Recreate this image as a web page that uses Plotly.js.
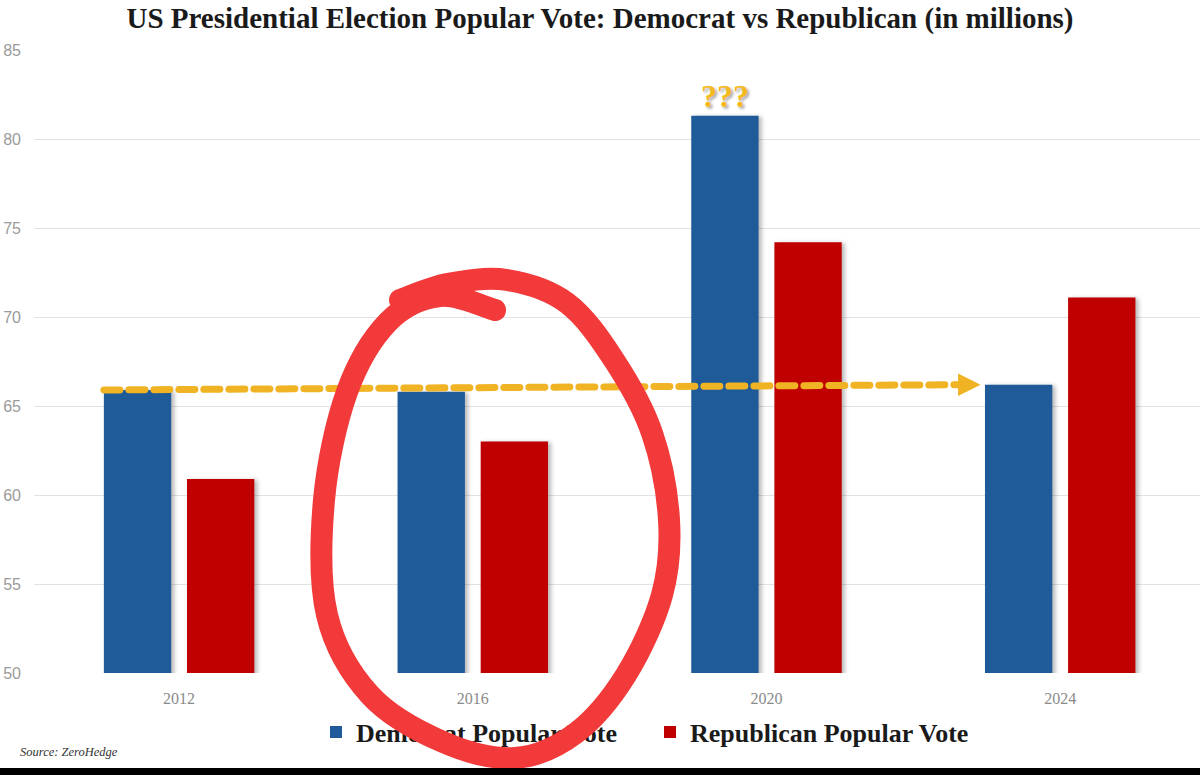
<!DOCTYPE html>
<html>
<head>
<meta charset="utf-8">
<script src="https://cdn.plot.ly/plotly-3.0.1.min.js"></script>
<style>
  html, body { margin: 0; padding: 0; background: #ffffff; }
  #chart { width: 1200px; height: 775px; }
</style>
</head>
<body>
<div id="chart"></div>
<script>
// ---- data ----
const categories = ['2012', '2016', '2020', '2024'];
const demVotes = [65.9, 65.8, 81.3, 66.2];
const repVotes = [60.9, 63.0, 74.2, 71.1];
const seriesNames = ['Democrat Popular Vote', 'Republican Popular Vote'];
const yTicks = [50, 55, 60, 65, 70, 75, 80, 85];

// ---- layout constants ----
const W = 1200, H = 775;
const M = { l: 34, r: 0, t: 50, b: 102 };
const PW = W - M.l - M.r, PH = H - M.t - M.b;
const plotBottom = H - M.b;
const BARGAP = 0.434, BARGROUPGAP = 0.19;
const X_RANGE = [-0.494, 3.476];
const px = v => (v - M.l) / PW;          // pixel x -> paper x
const py = v => (plotBottom - v) / PH;   // pixel y -> paper y

const BLUE = '#1f5a99', RED = '#c00000', GOLD = '#f0b323';

const traces = [
  { type: 'bar', name: seriesNames[0], x: categories, y: demVotes,
    marker: { color: BLUE }, hoverinfo: 'skip' },
  { type: 'bar', name: seriesNames[1], x: categories, y: repVotes,
    marker: { color: RED }, hoverinfo: 'skip' }
];

// position of democrat bar (left bar of each group) in category units
const slotUnits = (1 - BARGAP) / 2;
const barUnits = slotUnits * (1 - BARGROUPGAP);
const demCenter = i => i - slotUnits / 2;
const demLeft = i => demCenter(i) - barUnits / 2;

// hand-drawn red loop around 2016 (pixel coords of stroke centre)
const loopPx = [
  [495, 310], [440, 296], [388, 322], [347, 392], [324, 500], [327, 615],
  [370, 695], [443, 742], [515, 758], [576, 733], [626, 675], [662, 595],
  [669, 520], [652, 433], [614, 360], [567, 303], [507, 280], [447, 284], [400, 300]
];
function smoothPath(pts) {
  const p = pts.map(([x, y]) => [px(x), py(y)]);
  let d = 'M' + p[0][0].toFixed(4) + ',' + p[0][1].toFixed(4);
  for (let i = 0; i < p.length - 1; i++) {
    const p0 = p[i - 1] || p[i], p1 = p[i], p2 = p[i + 1], p3 = p[i + 2] || p2;
    const c1 = [p1[0] + (p2[0] - p0[0]) / 6, p1[1] + (p2[1] - p0[1]) / 6];
    const c2 = [p2[0] - (p3[0] - p1[0]) / 6, p2[1] - (p3[1] - p1[1]) / 6];
    d += ' C' + c1.map(v => v.toFixed(4)).join(',') + ' ' +
         c2.map(v => v.toFixed(4)).join(',') + ' ' + p2.map(v => v.toFixed(4)).join(',');
  }
  return d;
}

const layout = {
  width: W, height: H,
  margin: M,
  paper_bgcolor: '#ffffff',
  plot_bgcolor: '#ffffff',
  barmode: 'group',
  bargap: BARGAP,
  bargroupgap: BARGROUPGAP,
  title: {
    text: 'US Presidential Election Popular Vote: Democrat vs Republican (in millions)',
    x: 0.5, xref: 'container', xanchor: 'center',
    y: 1 - 18 / H, yref: 'container', yanchor: 'middle',
    font: { family: 'Liberation Serif, serif', size: 29, color: '#1a1a1a', weight: 'bold' }
  },
  xaxis: {
    type: 'category',
    range: X_RANGE,
    showgrid: false, zeroline: false, showline: false, ticks: '',
    ticklabelstandoff: 14,
    tickfont: { family: 'Liberation Serif, serif', size: 16, color: '#8a8a8a' }
  },
  yaxis: {
    range: [50, 85],
    tickvals: yTicks,
    ticktext: yTicks.map(String),
    showgrid: true, gridcolor: '#e2e2e2', gridwidth: 1,
    zeroline: false, showline: false, ticks: '',
    ticklabelstandoff: 12,
    tickfont: { family: 'Liberation Sans, sans-serif', size: 16, color: '#9a9a9a' }
  },
  showlegend: true,
  legend: {
    orientation: 'h',
    x: px(316), xanchor: 'left',
    y: py(732), yanchor: 'middle',
    entrywidth: 289, entrywidthmode: 'pixels',
    font: { family: 'Liberation Serif, serif', size: 26, color: '#1a1a1a', weight: 'bold' },
    bgcolor: 'rgba(0,0,0,0)'
  },
  shapes: [
    // dashed trend arrow from 2012 democrat level to 2024 democrat level
    { type: 'line', xref: 'x', yref: 'y', layer: 'above',
      x0: demLeft(0), y0: demVotes[0], x1: demLeft(3) - 0.06, y1: demVotes[3],
      line: { color: GOLD, width: 7, dash: '16px,9px' } },
    // red loop
    { type: 'path', xref: 'paper', yref: 'paper', layer: 'above',
      path: smoothPath(loopPx),
      line: { color: '#f23a3a', width: 22 } },
    // black strip at the bottom
    { type: 'rect', xref: 'paper', yref: 'paper', layer: 'above',
      x0: px(0), x1: px(W), y0: py(H + 2), y1: py(768),
      fillcolor: '#000000', line: { width: 0 } }
  ],
  annotations: [
    { x: demCenter(2), y: demVotes[2], xref: 'x', yref: 'y',
      text: '???', showarrow: false, yanchor: 'bottom', yshift: 0,
      font: { family: 'Liberation Serif, serif', size: 32, color: '#f5b81f', weight: 'bold',
              shadow: '2px 2px 3px rgba(0,0,0,0.35)' } },
    { x: demLeft(3) - 0.015, y: demVotes[3], xref: 'x', yref: 'y',
      ax: -14, ay: 0, axref: 'pixel', ayref: 'pixel',
      showarrow: true, arrowhead: 2, arrowsize: 0.9, arrowwidth: 5, arrowcolor: GOLD,
      text: '' },
    { x: px(18), y: py(752), xref: 'paper', yref: 'paper',
      xanchor: 'left', yanchor: 'middle', showarrow: false,
      text: '<i>Source: ZeroHedge</i>',
      font: { family: 'Liberation Serif, serif', size: 12.5, color: '#333333' } }
  ]
};

const gd = document.getElementById('chart');
Plotly.newPlot(gd, traces, layout, { staticPlot: true, displayModeBar: false }).then(() => {
  // soft shadow on the bars, as in the reference
  gd.querySelectorAll('.barlayer .point path').forEach(p => {
    p.style.filter = 'drop-shadow(3px 1px 2px rgba(0,0,0,0.28))';
  });
  // draw the decorative shapes over the legend (as in the marked-up screenshot)
  const sl = gd.querySelector('.layer-above .shapelayer');
  const info = gd.querySelector('.infolayer');
  if (sl && info) {
    info.parentNode.appendChild(sl);
    sl.querySelectorAll('path').forEach(p => {
      p.style.strokeLinecap = 'round';
      p.style.strokeLinejoin = 'round';
    });
  }
});
</script>
</body>
</html>
